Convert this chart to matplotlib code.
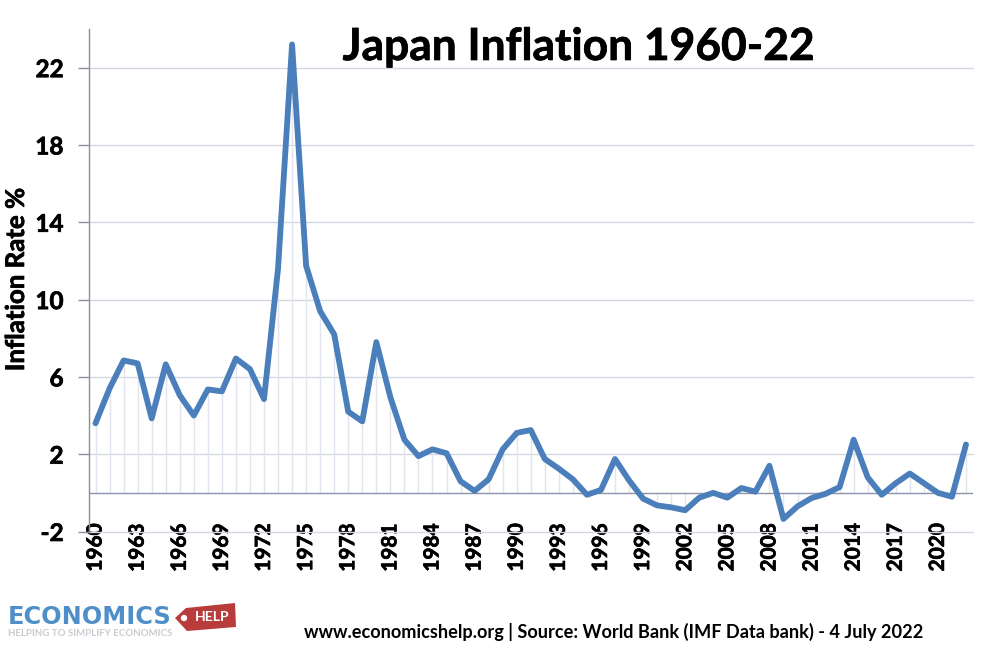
import matplotlib
matplotlib.use("Agg")
import matplotlib.pyplot as plt
import matplotlib.patheffects as pe
from matplotlib.patches import Polygon, Circle

years = list(range(1960, 2023))
inflation = [3.6, 5.4, 6.85, 6.7, 3.85, 6.65, 5.05, 4.0, 5.35, 5.25, 6.95, 6.4, 4.85, 11.6, 23.2,
             11.75, 9.4, 8.2, 4.2, 3.7, 7.8, 4.95, 2.75, 1.9, 2.25, 2.05, 0.6, 0.1, 0.7, 2.25,
             3.1, 3.25, 1.75, 1.25, 0.7, -0.1, 0.15, 1.75, 0.65, -0.3, -0.65, -0.75, -0.9, -0.25,
             0.0, -0.25, 0.25, 0.06, 1.4, -1.35, -0.7, -0.27, -0.05, 0.3, 2.75, 0.8, -0.1, 0.5,
             1.0, 0.5, 0.0, -0.2, 2.5]
y_ticks = [-2, 2, 6, 10, 14, 18, 22]
x_ticks = list(range(1960, 2021, 3))

plt.rcParams['font.family'] = ['Lato', 'DejaVu Sans']
W, H = 1000, 648
heavy = [pe.withStroke(linewidth=0.5, foreground='black')]
fig = plt.figure(figsize=(W/100, H/100), dpi=100, facecolor='white')
ax = fig.add_axes([88.5/W, 1-531.5/H, (973-88.5)/W, (531.5-29)/H])
ax.set_xlim(1959.5, 2022.5)
ax.set_ylim(-2, 24)

ax.yaxis.grid(True, color='#d3d7e2', lw=1)
for g in ax.get_ygridlines():
    g.set_clip_on(False)
ax.set_axisbelow(True)
ax.vlines(years, 0, inflation, color='#e2e5ee', lw=1, zorder=1)
ax.axhline(0, color='#8d93ad', lw=1, zorder=1.5)
ax.plot(years, inflation, color='#4a7fbb', lw=4.2, solid_joinstyle='round', solid_capstyle='round', zorder=3)

for s in ['top', 'right', 'bottom']:
    ax.spines[s].set_visible(False)
ax.spines['left'].set_color('#8c8f99')
ax.spines['left'].set_linewidth(1)

ax.set_yticks(y_ticks)
ax.set_yticklabels([str(v) for v in y_ticks], fontsize=17.5, fontweight='bold', path_effects=heavy)
ax.tick_params(axis='y', length=8, color='#8c8f99', width=1, pad=10)
ax.set_xticks(x_ticks)
ax.set_xticklabels([str(v) for v in x_ticks], rotation=90, fontsize=15, fontweight='bold', path_effects=heavy)
ax.tick_params(axis='x', length=0, pad=-6)

fig.text(16/W, 1-279/H, 'Inflation Rate %', rotation=90, fontsize=18.6, fontweight='bold',
         ha='center', va='center', path_effects=heavy)
fig.text(578.5/W, 1-60/H, 'Japan Inflation 1960-22', fontsize=31.9, fontweight='bold',
         ha='center', va='baseline', path_effects=heavy)
fig.text(614/W, 1-632/H, 'www.economicshelp.org | Source: World Bank (IMF Data bank) - 4 July 2022',
         fontsize=13.1, fontweight='bold', ha='center', va='center')

# logo
fig.text(8/W, 1-617/H, 'ECONOMICS', fontsize=17.3, fontweight='bold', color='#4f8fc9', ha='left', va='center',
         family=['DejaVu Sans'])
fig.text(8/W, 1-633/H, 'HELPING TO SIMPLIFY ECONOMICS', fontsize=7, color='#c9ccd2', ha='left', va='center', fontweight='bold')
fig.add_artist(Polygon([(175/W, 1-618/H), (186/W, 1-608/H), (235/W, 1-603/H), (236/W, 1-627/H), (187/W, 1-631/H)],
                       closed=True, transform=fig.transFigure, facecolor='#b93c3c', edgecolor='none'))
fig.text(212/W, 1-617/H, 'HELP', fontsize=10, fontweight='bold', color='white', ha='center', va='center')
fig.add_artist(Circle((184, H-618), 3.2, transform=None, facecolor='white', edgecolor='none'))

fig.savefig('out.png', dpi=100, facecolor='white')
